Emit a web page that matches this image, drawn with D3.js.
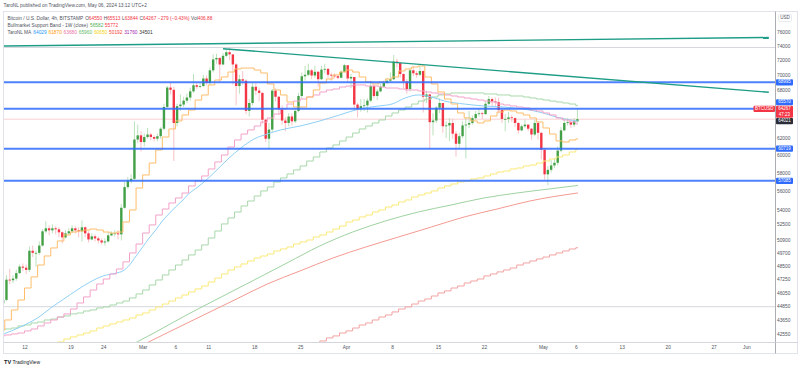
<!DOCTYPE html>
<html>
<head>
<meta charset="utf-8">
<script src="https://cdn.jsdelivr.net/npm/d3@7"></script>
<style>
  body { margin: 0; background: #fff; }
  svg text { font-family: "Liberation Sans", Arial, sans-serif; }
</style>
</head>
<body>
<div id="chart"></div>
<script>
const width = 800,
  height = 370,
  plot = { left: 4, right: 775, top: 12, bottom: 342 };

// ---- candles, 12h bars (values in thousand USD), first bar opens Feb 8 12:00
const candleStart = "2024-02-08T12:00";
const lastBar = "2024-05-06T08:00";
const firstOpen = 45.10;
const closes = [
  45.40,
  47.20, 47.15, 47.30, 47.80, 48.40, 48.30,               // Feb 9-11
  48.10, 49.90, 49.70, 49.70, 50.40, 51.80, 52.10, 51.90, // Feb 12-15
  52.10, 52.00, 51.70, 51.20, 51.60, 51.80,               // Feb 16-18
  52.10, 51.90, 51.80, 52.20, 51.60, 51.00, 51.30, 51.10, // Feb 19-22
  50.90, 50.70, 50.80, 51.40, 51.60, 51.60,               // Feb 23-25
  51.50, 54.20, 56.40, 57.10, 57.30, 61.80, 62.30, 61.50, // Feb 26-29
  62.10, 62.40, 62.10, 61.90, 62.20, 63.10, 65.80, 68.30, // Mar 1-4
  68.00, 63.80, 65.90, 66.10, 66.60, 67.00, 67.80, 68.60, // Mar 5-8
  68.40, 68.50, 69.50, 68.90, 70.60, 72.10, 72.30, 71.40, // Mar 9-12
  72.60, 73.10, 72.80, 71.40, 68.50, 69.40, 69.20, 65.30, // Mar 13-16
  66.30, 68.40, 67.90, 67.60, 64.20, 61.90, 63.00, 67.90, // Mar 17-20
  67.10, 65.50, 64.10, 63.80, 64.60, 64.00, 65.30, 67.20, // Mar 21-24
  69.80, 70.00, 70.60, 69.90, 70.40, 69.40, 70.70, 70.80, // Mar 25-28
  70.00, 69.90, 69.80, 69.60, 70.40, 71.30,               // Mar 29-31
  69.50, 69.70, 66.10, 65.50, 65.90, 66.00, 66.60, 68.50, // Apr 1-4
  67.20, 67.80, 68.40, 68.90, 69.20, 69.40, 71.80, 71.60, // Apr 5-8
  70.10, 69.10, 68.10, 70.60, 70.20, 70.00, 70.50, 67.10, // Apr 9-12
  67.40, 63.90, 64.10, 65.70, 66.30, 63.40, 63.50, 63.80, // Apr 13-16
  62.50, 61.30, 62.20, 63.50, 63.60, 63.80, 64.40, 64.90, // Apr 17-20
  65.00, 64.90, 66.20, 66.80, 66.50, 66.40, 65.40, 64.30, // Apr 21-24
  64.30, 64.50, 64.40, 63.80, 62.90, 63.40, 63.60, 63.10, // Apr 25-28
  62.40, 63.80, 62.60, 60.60,                             // Apr 29-30
  57.80, 58.30, 58.80, 59.10, 60.50, 62.90, 63.80, 63.90, // May 1-4
  63.60, 64.00, 64.27                                     // May 5-6
];
const highs = [
  45.60,
  47.60, 48.20, 47.60, 48.10, 48.60, 48.70,
  48.60, 50.30, 50.40, 49.90, 50.80, 52.00, 52.80, 52.40,
  52.50, 52.30, 52.20, 51.80, 51.90, 52.10,
  52.40, 52.30, 52.20, 52.90, 52.30, 51.80, 51.60, 51.50,
  51.30, 51.10, 51.10, 51.70, 51.80, 51.90,
  51.90, 54.60, 57.00, 57.50, 57.80, 64.00, 63.60, 62.80,
  62.50, 63.20, 62.60, 62.30, 62.50, 63.30, 66.20, 68.50,
  69.00, 68.40, 66.20, 67.40, 67.10, 67.50, 68.30, 70.10,
  68.90, 68.90, 70.00, 69.90, 71.00, 72.80, 72.90, 72.40,
  73.00, 73.60, 73.80, 72.60, 71.60, 70.00, 70.50, 69.40,
  66.80, 68.90, 68.90, 68.30, 67.70, 64.30, 63.80, 68.10,
  68.20, 67.20, 66.00, 64.50, 65.00, 65.00, 65.60, 67.60,
  70.30, 71.20, 71.50, 70.80, 71.20, 70.50, 71.20, 71.50,
  70.90, 70.30, 70.20, 70.00, 70.60, 71.50,
  71.30, 70.10, 69.70, 66.30, 66.80, 66.80, 66.90, 69.20,
  68.70, 68.10, 68.80, 69.20, 69.60, 70.30, 72.70, 72.20,
  71.70, 70.20, 69.40, 71.00, 71.20, 70.50, 71.20, 70.60,
  67.90, 67.50, 65.00, 65.90, 66.90, 66.30, 64.00, 64.40,
  64.30, 62.80, 62.60, 64.00, 64.50, 65.30, 64.70, 65.30,
  65.60, 65.20, 66.50, 67.20, 67.00, 67.00, 67.00, 65.70,
  64.90, 65.20, 64.80, 64.50, 63.90, 63.60, 64.20, 63.60,
  63.20, 64.20, 64.00, 62.70,
  60.80, 58.70, 59.40, 59.60, 61.00, 63.30, 64.30, 64.40,
  64.30, 64.40, 65.51
];
const lows = [
  44.90,
  45.30, 46.80, 46.90, 47.10, 47.70, 48.00,
  47.70, 47.90, 49.30, 48.40, 49.50, 50.30, 51.60, 51.40,
  51.60, 51.50, 51.20, 50.60, 51.10, 51.40,
  51.60, 51.60, 51.20, 50.80, 51.20, 50.70, 50.90, 50.80,
  50.60, 50.50, 50.40, 50.70, 51.30, 51.30,
  51.00, 50.90, 54.10, 56.20, 56.80, 57.20, 61.40, 60.40,
  61.00, 61.90, 61.70, 61.60, 61.60, 61.90, 62.90, 65.60,
  67.40, 59.30, 63.40, 65.30, 65.80, 66.30, 66.60, 67.60,
  68.10, 68.20, 68.40, 68.60, 68.60, 70.30, 71.50, 68.90,
  71.30, 72.40, 72.00, 68.70, 66.00, 67.50, 68.70, 64.90,
  64.60, 66.00, 67.30, 66.50, 63.70, 61.50, 60.80, 62.70,
  66.50, 64.80, 63.60, 62.80, 63.40, 63.50, 63.80, 65.10,
  66.90, 69.20, 69.80, 69.40, 69.60, 68.40, 69.30, 70.20,
  69.60, 69.20, 69.50, 69.40, 69.50, 70.30,
  68.90, 68.20, 65.40, 64.50, 65.20, 65.30, 65.10, 66.40,
  66.90, 66.70, 67.70, 68.30, 68.80, 69.00, 69.30, 71.00,
  69.60, 68.20, 67.50, 67.80, 69.80, 69.60, 69.80, 65.10,
  66.30, 60.80, 62.30, 63.80, 65.00, 62.60, 62.00, 61.60,
  61.90, 59.80, 60.80, 62.00, 59.60, 63.20, 63.60, 64.20,
  64.60, 64.30, 64.80, 66.00, 65.90, 65.90, 65.00, 63.80,
  62.80, 63.80, 63.90, 63.30, 62.50, 62.80, 63.20, 62.80,
  61.80, 62.20, 61.80, 59.50,
  57.20, 56.60, 58.00, 58.50, 58.80, 60.30, 62.80, 63.50,
  63.20, 63.30, 63.84
];

// ---- TaroNL MA lines drawn on daily steps (thousand USD), one value per day
const maDailyStart = "2024-02-08";
const maOrange = [
  42.85, 43.68, 44.53, 45.39, 46.45, 47.45, 48.55, 49.40, 50.17, 50.85, 51.44,
  51.73, 51.83, 51.93, 52.03, 51.93, 51.73, 51.63, 51.73, 52.74, 53.97, 56.30,
  57.73, 59.07, 60.57, 62.10, 63.07, 64.05, 64.79, 65.41, 66.68, 67.33, 68.64,
  69.30, 69.70, 70.37, 70.78, 70.91, 70.91, 70.64, 70.24, 68.77, 67.98, 67.33,
  66.43, 65.79, 65.79, 67.07, 67.98, 68.90, 69.43, 69.97, 70.37,
  70.64, 70.37, 69.70, 69.03, 68.77, 69.03, 69.43, 69.70, 70.51, 70.78, 71.05,
  71.19, 69.70, 68.77, 67.72, 66.81, 66.17, 65.04, 64.42, 64.05, 63.80, 64.05,
  64.66, 65.16, 65.41, 65.29, 65.04, 64.79, 64.42, 63.92,
  63.19, 62.46, 61.63, 61.51, 61.75, 61.87
];
const maPink = [
  42.36, 42.44, 42.52, 42.60, 42.77, 42.93, 43.18, 43.43, 43.68, 43.93, 44.19,
  44.61, 45.13, 45.66, 46.27, 46.81, 47.26, 47.72, 48.18, 48.84, 49.69, 50.55,
  51.63, 52.44, 53.45, 54.07, 54.70, 55.23, 55.76, 56.52, 57.07, 57.62, 58.40,
  59.19, 59.99, 60.92, 61.75, 62.46, 62.95, 63.43, 63.92, 64.42, 64.91, 65.54,
  66.17, 66.55, 66.81, 67.07, 67.33, 67.72, 67.98, 68.11, 68.37,
  68.50, 68.64, 68.64, 68.50, 68.50, 68.37, 68.24, 68.24, 68.11, 67.98, 67.98,
  67.85, 67.72, 67.59, 67.46, 67.33, 67.20, 67.07, 66.94, 66.81, 66.68, 66.55,
  66.43, 66.17, 66.05, 65.92, 65.79, 65.67, 65.41, 65.29,
  65.04, 64.79, 64.42, 64.17, 63.92, 63.68
];
const maGreen = [
  42.85, 42.93, 43.01, 43.18, 43.26, 43.43, 43.51, 43.68, 43.76, 43.93, 44.02,
  44.19, 44.27, 44.44, 44.53, 44.70, 44.79, 44.96, 45.13, 45.30, 45.57, 45.92,
  46.27, 46.72, 47.17, 47.63, 48.09, 48.55, 49.02, 49.50, 49.97, 50.46, 51.14,
  51.83, 52.54, 53.15, 53.76, 54.39, 54.91, 55.44, 55.98, 56.41, 56.96, 57.40,
  57.84, 58.29, 58.74, 59.30, 59.76, 60.34, 60.80, 61.16, 61.63,
  62.10, 62.58, 63.07, 63.43, 63.80, 64.17, 64.66, 65.04, 65.41, 65.79, 66.17,
  66.55, 66.81, 67.07, 67.33, 67.46, 67.59, 67.59, 67.59, 67.59, 67.59, 67.46,
  67.46, 67.33, 67.33, 67.20, 67.20, 67.07, 66.94, 66.81,
  66.68, 66.55, 66.43, 66.30, 66.17, 65.96
];
const maYellowStart = "2024-02-14";
const maYellow = [
  41.39, 41.55, 41.71, 41.87, 42.11, 42.28, 42.44, 42.60, 42.77, 43.01, 43.18,
  43.35, 43.51, 43.68, 43.85, 44.10,
  44.27, 44.53, 44.79, 45.04, 45.30, 45.57, 45.83, 46.10, 46.37, 46.63, 46.99,
  47.35, 47.72, 48.09, 48.37, 48.65, 48.93, 49.21, 49.40, 49.59, 49.88, 50.07,
  50.26, 50.55, 50.75, 50.94, 51.24, 51.44, 51.73, 52.03, 52.33,
  52.74, 52.94, 53.25, 53.45, 53.76, 53.97, 54.28, 54.49, 54.81, 55.02, 55.34,
  55.55, 55.76, 55.98, 56.30, 56.52, 56.74, 56.96, 57.07, 57.29, 57.40, 57.62,
  57.84, 58.06, 58.17, 58.40, 58.51, 58.74, 58.85, 59.07,
  59.30, 59.53, 59.76, 59.99, 60.34, 60.65
];
const maRedStart = "2024-03-24";
const maRed = [
  41.23, 41.39, 41.55, 41.79, 41.95, 42.20, 42.36, 42.60,
  42.77, 43.01, 43.26, 43.43, 43.68, 43.93, 44.10, 44.36, 44.61, 44.79, 45.04,
  45.30, 45.48, 45.74, 46.01, 46.19, 46.45, 46.63, 46.90, 47.08, 47.26, 47.54,
  47.72, 47.91, 48.09, 48.27, 48.55, 48.74, 48.93, 49.12,
  49.30, 49.50, 49.69, 49.88, 50.07, 50.19
];

// ---- smooth lines [date, thousand USD]
const maBlue = [
  ["2024-02-08", 42.36], ["2024-02-10", 42.77], ["2024-02-12", 43.26], ["2024-02-14", 43.85],
  ["2024-02-16", 44.70], ["2024-02-18", 45.48], ["2024-02-20", 46.27], ["2024-02-22", 46.99],
  ["2024-02-24", 47.54], ["2024-02-26", 47.81], ["2024-02-27", 48.00], ["2024-02-28", 48.55],
  ["2024-02-29", 49.40], ["2024-03-01", 50.26], ["2024-03-02", 51.14], ["2024-03-03", 51.93],
  ["2024-03-04", 52.84], ["2024-03-05", 53.56], ["2024-03-06", 54.28], ["2024-03-07", 54.91],
  ["2024-03-08", 55.66], ["2024-03-09", 56.20], ["2024-03-10", 56.74], ["2024-03-12", 58.06],
  ["2024-03-14", 59.53], ["2024-03-16", 60.82], ["2024-03-18", 61.87], ["2024-03-20", 62.46],
  ["2024-03-22", 62.95], ["2024-03-25", 63.43], ["2024-03-28", 64.05], ["2024-03-31", 64.79],
  ["2024-04-03", 65.54], ["2024-04-06", 65.92], ["2024-04-08", 66.17], ["2024-04-10", 66.94],
  ["2024-04-12", 67.33], ["2024-04-14", 67.07], ["2024-04-16", 66.55], ["2024-04-19", 66.17],
  ["2024-04-22", 65.92], ["2024-04-25", 65.79], ["2024-04-28", 65.54], ["2024-05-01", 65.04],
  ["2024-05-03", 64.54], ["2024-05-06T08:00", 64.03]
];
const bandSma = [
  ["2024-02-28", 41.55], ["2024-03-03", 42.68], ["2024-03-08", 44.19], ["2024-03-13", 45.66],
  ["2024-03-18", 47.17], ["2024-03-23", 48.74], ["2024-03-28", 50.36], ["2024-04-02", 51.73],
  ["2024-04-07", 52.84], ["2024-04-12", 53.76], ["2024-04-17", 54.49], ["2024-04-22", 55.23],
  ["2024-04-27", 55.76], ["2024-05-02", 56.20], ["2024-05-06T08:00", 56.58]
];
const bandEma = [
  ["2024-03-01", 41.63], ["2024-03-05", 42.68], ["2024-03-10", 44.02], ["2024-03-15", 45.39],
  ["2024-03-20", 46.81], ["2024-03-25", 48.00], ["2024-03-30", 49.21], ["2024-04-04", 50.26],
  ["2024-04-09", 51.24], ["2024-04-14", 52.23], ["2024-04-19", 53.25], ["2024-04-24", 54.07],
  ["2024-04-29", 54.91], ["2024-05-06T08:00", 55.77]
];

// ---- drawings
const levels = [68995, 65570, 60719, 57085];
const greyLevels = [73770, 44810];
const trendUp = [["2024-02-08T21:00", 73980], ["2024-06-04T10:00", 75200]];
const trendDown = [["2024-03-13T06:00", 73600], ["2024-06-04T10:00", 67680]];
const lastPrice = 64267;
const prevClose = 64021;
const countdown = "47:23";

// ---- axes and legend (66000 / 64000 sit under the tags, so they are not listed)
const priceTicks = [76000, 74000, 72000, 70000, 68000, 62000, 60000, 58000, 56000,
  54000, 52500, 50900, 49700, 48500, 47250, 46050, 44850, 43650, 42550];
const dateTicks = [["2024-02-12", "12"], ["2024-02-19", "19"], ["2024-02-24", "24"], ["2024-03-01", "Mar"],
  ["2024-03-06", "6"], ["2024-03-11", "11"], ["2024-03-18", "18"], ["2024-03-25", "25"],
  ["2024-04-01", "Apr"], ["2024-04-08", "8"], ["2024-04-15", "15"], ["2024-04-22", "22"],
  ["2024-05-01", "May"], ["2024-05-06", "6"], ["2024-05-13", "13"], ["2024-05-20", "20"],
  ["2024-05-27", "27"], ["2024-06-01", "Jun"]];
const lastOHLC = [64550, 65513, 63844, 64267];
const lastChange = "−279 (−0.43%)";
const lastVol = "406.88";
const bandValues = [56582, 55772];
const maValues = [64029, 61870, 63680, 65960, 60650, 50192, 31760, 34501];
const maLegendColors = ["#2196f3", "#ff9800", "#ec6fa5", "#66bb6a", "#f5d20f", "#f44336", "#9c27b0", "#333"];

const red = "#f23645", green = "#43a047", blue = "#2f6bff", grey = "#50535e";

// ---- scales
const parseTime = d3.utcParse("%Y-%m-%dT%H:%M");
const day = s => parseTime(s.length === 10 ? s + "T00:00" : s);

const xScale = d3.scaleUtc()
  .domain([day("2024-02-12"), day("2024-06-01")])
  .range([24.5, 746.4]);
const yScale = d3.scaleLog()
  .domain([42550, 76000])
  .range([333.6, 32]);

const svg = d3.select("#chart").append("svg")
  .attr("width", width)
  .attr("height", height);

svg.append("rect").attr("width", width).attr("height", height).attr("fill", "#fff");

// frame
svg.append("rect")
  .attr("x", 3.5).attr("y", 11.5)
  .attr("width", 794).attr("height", 342)
  .attr("fill", "none").attr("stroke", "#e0e3eb");

svg.append("clipPath").attr("id", "plot-clip")
  .append("rect")
  .attr("x", plot.left).attr("y", plot.top)
  .attr("width", plot.right - plot.left).attr("height", plot.bottom - plot.top);

const g = svg.append("g").attr("clip-path", "url(#plot-clip)");

// grey helper levels
g.selectAll(".grey-level")
  .data(greyLevels)
  .join("line")
  .attr("class", "grey-level")
  .attr("x1", plot.left).attr("x2", plot.right)
  .attr("y1", d => yScale(d)).attr("y2", d => yScale(d))
  .attr("stroke", "#d6d8de").attr("stroke-width", 1);

// current price line
g.append("line")
  .attr("x1", plot.left).attr("x2", plot.right)
  .attr("y1", yScale(lastPrice)).attr("y2", yScale(lastPrice))
  .attr("stroke", "#f7c3c8").attr("stroke-width", 0.8);

// ---- candles
const t0 = day(candleStart);
const candles = closes.map((c, i) => ({
  time: d3.utcHour.offset(t0, 12 * i + 6),
  open: (i === 0 ? firstOpen : closes[i - 1]) * 1000,
  close: c * 1000,
  high: highs[i] * 1000,
  low: lows[i] * 1000
}));

const candle = g.selectAll(".candle")
  .data(candles)
  .join("g")
  .attr("class", "candle");

candle.append("line")
  .attr("x1", d => xScale(d.time)).attr("x2", d => xScale(d.time))
  .attr("y1", d => yScale(d.high)).attr("y2", d => yScale(d.low))
  .attr("stroke", d => d.close >= d.open ? "#a9d9ab" : "#f7b3b9")
  .attr("stroke-width", 0.8);

candle.append("rect")
  .attr("x", d => xScale(d.time) - 1.2)
  .attr("width", 2.4)
  .attr("y", d => yScale(Math.max(d.open, d.close)))
  .attr("height", d => Math.max(0.8, Math.abs(yScale(d.open) - yScale(d.close))))
  .attr("fill", d => d.close >= d.open ? green : red);

// ---- MA lines
const lineGen = d3.line()
  .x(d => xScale(d.time))
  .y(d => yScale(d.value * 1000));

function daily(start, values) {
  const t = day(start);
  const pts = values.map((v, i) => ({ time: d3.utcDay.offset(t, i), value: v }));
  pts.push({ time: day(lastBar), value: values[values.length - 1] });
  return pts;
}
const smooth = rows => rows.map(([d, v]) => ({ time: day(d), value: v }));

const series = [
  { pts: daily(maRedStart, maRed), color: "#f3a3a3", step: true },
  { pts: smooth(bandEma), color: "#f49a93", step: false },
  { pts: smooth(bandSma), color: "#9fd3a1", step: false },
  { pts: daily(maYellowStart, maYellow), color: "#fbe97a", step: true },
  { pts: daily(maDailyStart, maGreen), color: "#a8d8aa", step: true },
  { pts: smooth(maBlue), color: "#8fd0f5", step: false },
  { pts: daily(maDailyStart, maPink), color: "#f2a2c8", step: true },
  { pts: daily(maDailyStart, maOrange), color: "#ffbd6b", step: true }
];

g.selectAll(".ma")
  .data(series)
  .join("path")
  .attr("class", "ma")
  .attr("fill", "none")
  .attr("stroke", d => d.color)
  .attr("stroke-width", 1)
  .attr("d", d => lineGen.curve(d.step ? d3.curveStepAfter : d3.curveMonotoneX)(d.pts));

// ---- drawings on top
g.selectAll(".level")
  .data(levels)
  .join("line")
  .attr("class", "level")
  .attr("x1", plot.left).attr("x2", plot.right)
  .attr("y1", d => yScale(d)).attr("y2", d => yScale(d))
  .attr("stroke", blue).attr("stroke-width", 2).attr("stroke-opacity", 0.85);

const trendGen = d3.line().x(d => xScale(day(d[0]))).y(d => yScale(d[1]));
g.selectAll(".trend")
  .data([trendUp, trendDown])
  .join("path")
  .attr("class", "trend")
  .attr("fill", "none")
  .attr("stroke", "#1d9c86")
  .attr("stroke-width", 1.4)
  .attr("d", trendGen);

// ---- price axis
svg.append("line")
  .attr("x1", plot.right + 0.5).attr("x2", plot.right + 0.5)
  .attr("y1", 11.5).attr("y2", 353.5)
  .attr("stroke", "#9598a1").attr("stroke-width", 0.8);

svg.append("line")
  .attr("x1", 3.5).attr("x2", 797.5)
  .attr("y1", plot.bottom + 0.5).attr("y2", plot.bottom + 0.5)
  .attr("stroke", "#c9ccd3").attr("stroke-width", 0.8);

const yAxis = svg.append("g")
  .attr("transform", `translate(${plot.right + 2},0)`)
  .call(d3.axisRight(yScale).tickValues(priceTicks).tickSize(0).tickPadding(0).tickFormat(d => d));
yAxis.select(".domain").remove();
yAxis.selectAll("text").attr("font-size", 4.8).attr("fill", grey);

svg.append("rect")
  .attr("x", 778.5).attr("y", 14.5).attr("width", 13).attr("height", 7).attr("rx", 1)
  .attr("fill", "#fff").attr("stroke", "#d1d4dc").attr("stroke-width", 0.5);
svg.append("text")
  .attr("x", 785).attr("y", 18.2)
  .attr("text-anchor", "middle").attr("dominant-baseline", "middle")
  .attr("font-size", 4.6).attr("fill", grey)
  .text("USD");

// ---- time axis
const xAxis = svg.append("g")
  .attr("transform", `translate(0,${plot.bottom})`)
  .call(d3.axisBottom(xScale)
    .tickValues(dateTicks.map(d => day(d[0])))
    .tickSize(0).tickPadding(3.5)
    .tickFormat((d, i) => dateTicks[i][1]));
xAxis.select(".domain").remove();
xAxis.selectAll("text").attr("font-size", 4.8).attr("fill", grey);

// ---- axis price labels
function priceTag(value, nudge, fill, lines, x0 = 776, w = 17) {
  const cy = yScale(value) + nudge;
  const h = 5.8 * lines.length + 0.4;
  svg.append("rect")
    .attr("x", x0).attr("y", cy - 3.1).attr("width", w).attr("height", h)
    .attr("rx", 1).attr("fill", fill);
  lines.forEach((t, i) => {
    svg.append("text")
      .attr("x", x0 + w / 2).attr("y", cy + i * 5.8)
      .attr("text-anchor", "middle").attr("dominant-baseline", "middle")
      .attr("font-size", 4.5).attr("fill", "#fff")
      .text(t);
  });
}
priceTag(levels[0], 0, blue, [String(levels[0])]);
priceTag(levels[1], -6.5, blue, [String(levels[1])]);
priceTag(lastPrice, -10.3, red, [String(lastPrice), countdown]);
priceTag(lastPrice, -10.3, red, ["BTCUSD"], 753.5, 21.5);
priceTag(prevClose, 0, "#2a2e39", [String(prevClose)]);
priceTag(levels[2], 0, blue, [String(levels[2])]);
priceTag(levels[3], 0, blue, [String(levels[3])]);

// ---- header and legend
svg.append("text")
  .attr("x", 3.5).attr("y", 5.8)
  .attr("dominant-baseline", "middle")
  .attr("font-size", 4.8).attr("fill", grey)
  .text("TaroNL published on TradingView.com, May 06, 2024 13:12 UTC+2");

function legendRow(yPos, parts) {
  const text = svg.append("text")
    .attr("x", 7.5).attr("y", yPos)
    .attr("dominant-baseline", "middle")
    .attr("font-size", 4.8);
  parts.forEach(([t, c, gap]) => {
    text.append("tspan").attr("dx", gap || 0).attr("fill", c).text(t);
  });
}

legendRow(18.8, [
  ["Bitcoin / U.S. Dollar, 4h, BITSTAMP", grey],
  ["O", grey, 2], [lastOHLC[0], red],
  ["H", grey, 1.5], [lastOHLC[1], red],
  ["L", grey, 1.5], [lastOHLC[2], red],
  ["C", grey, 1.5], [lastOHLC[3], red],
  [lastChange, red, 1.5],
  ["Vol", grey, 1.5], [lastVol, red]
]);
legendRow(25.7, [
  ["Bullmarket Support Band - 1W (close)", grey],
  [bandValues[0], "#4caf50", 2],
  [bandValues[1], red, 1.5]
]);
legendRow(32.8, [["TaroNL MA", grey]].concat(
  maValues.map((v, i) => [v, maLegendColors[i], i === 0 ? 2 : 1.8])
));

// ---- TradingView mark
svg.append("text")
  .attr("x", 4).attr("y", 362.5)
  .attr("dominant-baseline", "middle")
  .attr("font-size", 5.6).attr("font-weight", "bold").attr("fill", "#131722")
  .text("TV");
svg.append("text")
  .attr("x", 12.5).attr("y", 362.5)
  .attr("dominant-baseline", "middle")
  .attr("font-size", 5).attr("fill", "#131722")
  .text("TradingView");
</script>
</body>
</html>
